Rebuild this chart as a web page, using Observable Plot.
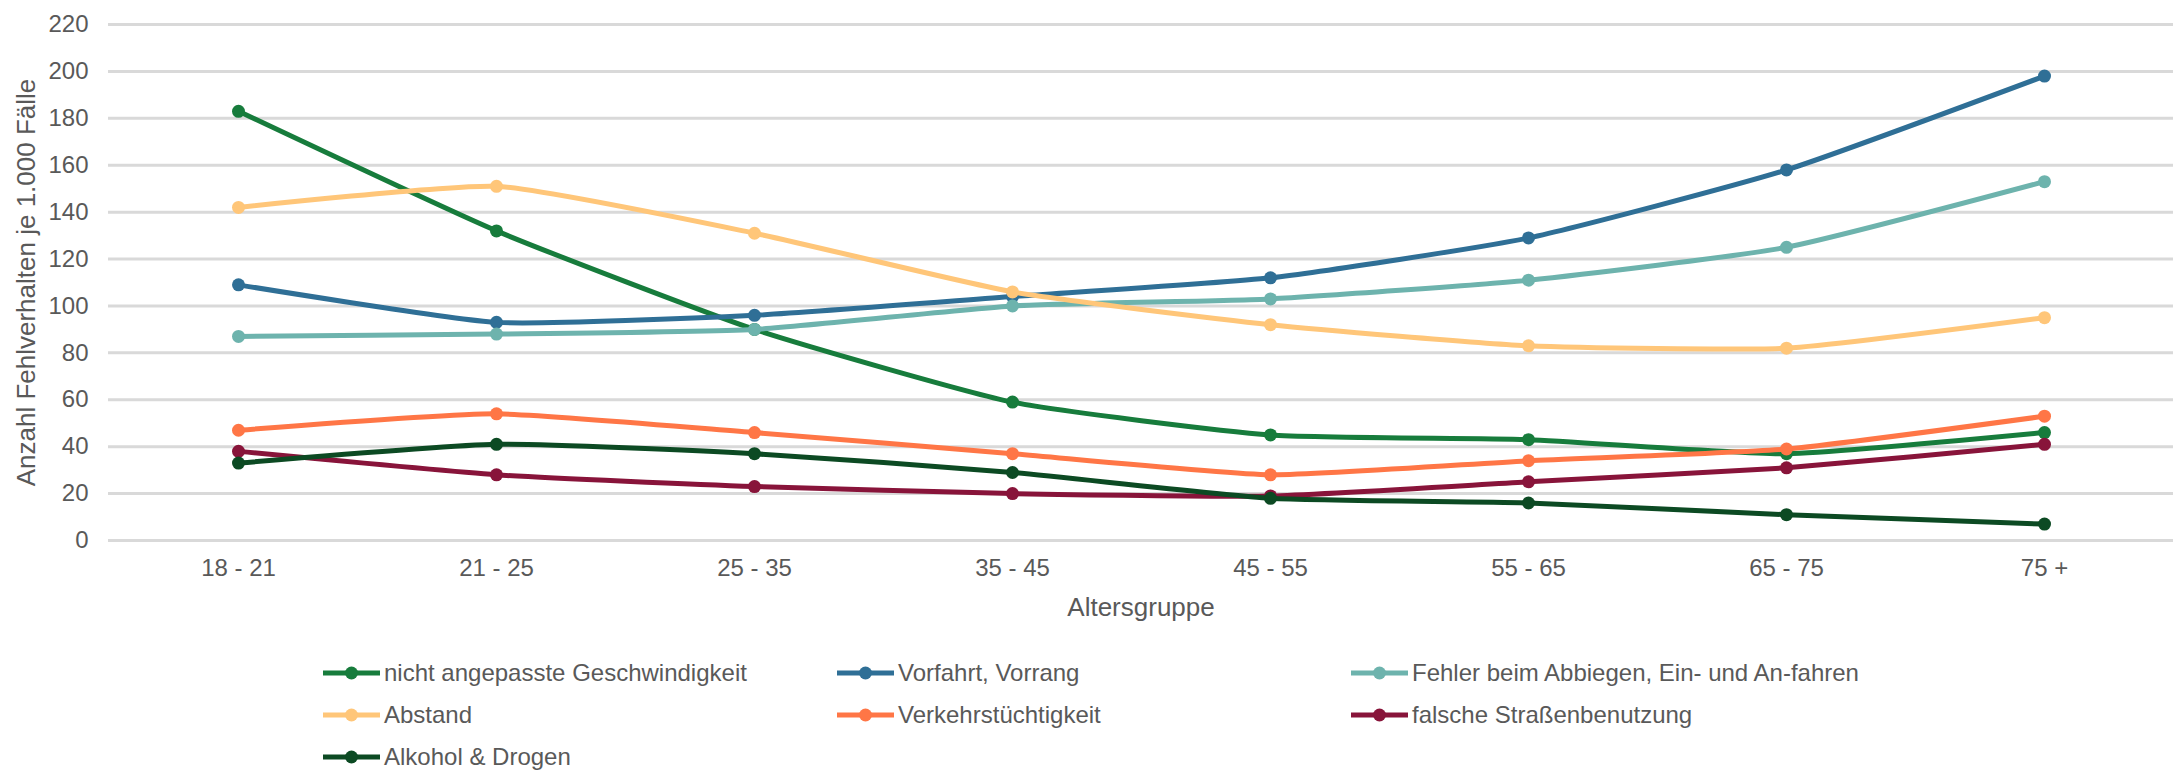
<!DOCTYPE html>
<html>
<head>
<meta charset="utf-8">
<script src="https://cdn.jsdelivr.net/npm/d3@7"></script>
<script src="https://cdn.jsdelivr.net/npm/@observablehq/plot@0.6"></script>
<style>
  body { margin: 0; background: #fff; font-family: "Liberation Sans", Arial, sans-serif; color: #595959; }
  #legend { position: relative; width: 2180px; height: 131px; }
  .item { position: absolute; display: flex; align-items: center; font-size: 24px; white-space: nowrap; height: 40px; }
  .item svg { margin-right: 4px; }
</style>
</head>
<body>
<div id="chart"></div>
<div id="legend"></div>
<script>
const ageGroups = ["18 - 21", "21 - 25", "25 - 35", "35 - 45", "45 - 55", "55 - 65", "65 - 75", "75 +"];
const seriesNames = [
  "nicht angepasste Geschwindigkeit",
  "Vorfahrt, Vorrang",
  "Fehler beim Abbiegen, Ein- und An-fahren",
  "Abstand",
  "Verkehrstüchtigkeit",
  "falsche Straßenbenutzung",
  "Alkohol & Drogen"
];
const geschwindigkeit = [183, 132, 90, 59, 45, 43, 37, 46];
const vorfahrt        = [109, 93, 96, 104, 112, 129, 158, 198];
const abbiegen        = [87, 88, 90, 100, 103, 111, 125, 153];
const abstand         = [142, 151, 131, 106, 92, 83, 82, 95];
const verkehrstuecht  = [47, 54, 46, 37, 28, 34, 39, 53];
const strassenbenutz  = [38, 28, 23, 20, 19, 25, 31, 41];
const alkohol         = [33, 41, 37, 29, 18, 16, 11, 7];
const seriesValues = [geschwindigkeit, vorfahrt, abbiegen, abstand, verkehrstuecht, strassenbenutz, alkohol];
const colors = ["#177c3c", "#2f6f96", "#6db3ad", "#ffc679", "#ff7646", "#88143a", "#0c4a23"];
const yTicks = [0, 20, 40, 60, 80, 100, 120, 140, 160, 180, 200, 220];
const yTitle = "Anzahl Fehlverhalten je 1.000 Fälle";
const xTitle = "Altersgruppe";

const data = seriesNames.flatMap((s, i) =>
  seriesValues[i].map((v, j) => ({series: s, age: ageGroups[j], value: v})));

const seriesMarks = seriesNames.flatMap(s => {
  const d = data.filter(r => r.series === s);
  return [
    Plot.line(d, {x: "age", y: "value", stroke: "series", strokeWidth: 5, curve: "cardinal", tension: 0.5}),
    Plot.dot(d, {x: "age", y: "value", fill: "series", r: 6.5})
  ];
});

const chart = Plot.plot({
  width: 2180,
  height: 640,
  marginTop: 24,
  marginBottom: 100,
  marginLeft: 108,
  marginRight: 7,
  style: {fontFamily: "Liberation Sans, Arial, sans-serif", fontSize: "24px", color: "#595959", background: "#fff"},
  x: {type: "point", domain: ageGroups, padding: 0.5, label: null},
  y: {domain: [0, 220], label: null},
  color: {domain: seriesNames, range: colors},
  marks: [
    Plot.gridY(yTicks, {stroke: "#d9d9d9", strokeWidth: 3, strokeOpacity: 1}),
    Plot.axisY(yTicks, {tickSize: 0, tickPadding: 20, label: null, fill: "#595959"}),
    Plot.axisX({tickSize: 0, tickPadding: 18, label: null, fill: "#595959"}),
    Plot.text([yTitle], {frameAnchor: "left", dx: -82, rotate: -90, textAnchor: "middle", lineAnchor: "middle", fontSize: 26, fill: "#595959"}),
    Plot.text([xTitle], {frameAnchor: "bottom", dy: 67, textAnchor: "middle", lineAnchor: "middle", fontSize: 26, fill: "#595959"}),
    ...seriesMarks
  ]
});
document.getElementById("chart").appendChild(chart);

// Legend (3 columns, row-major)
const legend = document.getElementById("legend");
seriesNames.forEach((s, i) => {
  const col = i % 3, row = Math.floor(i / 3);
  const div = document.createElement("div");
  div.className = "item";
  div.style.left = (323 + col * 514) + "px";
  div.style.top = (13 + row * 42) + "px";
  div.innerHTML = `<svg width="57" height="16"><line x1="0" x2="57" y1="8" y2="8" stroke="${colors[i]}" stroke-width="5" stroke-linecap="round"/><circle cx="28.5" cy="8" r="6.5" fill="${colors[i]}"/></svg><span>${s.replace("&", "&amp;")}</span>`;
  legend.appendChild(div);
});
</script>
</body>
</html>
